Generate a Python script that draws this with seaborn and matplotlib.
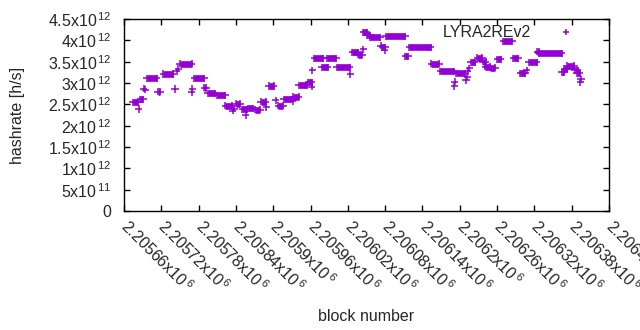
import numpy as np
import pandas as pd
import matplotlib
matplotlib.use("Agg")
import matplotlib.pyplot as plt
import seaborn as sns

# ---- data ----
# horizontal runs of identical hashrate (many overlapping points)
seg_start = [2205674, 2205686, 2205697, 2205714, 2205723, 2205750, 2205773, 2205789,
             2205795, 2205809, 2205823, 2205840, 2205850, 2205860, 2205871, 2205880,
             2205893, 2205908, 2205917, 2205932, 2205941, 2205956, 2205966, 2205978,
             2205987, 2206002, 2206027, 2206036, 2206045, 2206050, 2206056, 2206075,
             2206081, 2206112, 2206119, 2206154, 2206169, 2206194, 2206218, 2206228,
             2206237, 2206241, 2206249, 2206260, 2206270, 2206286, 2206297, 2206311,
             2206325, 2206327, 2206364, 2206368, 2206373, 2206385, 2206388]
seg_end = [2205682, 2205691, 2205713, 2205718, 2205738, 2205769, 2205789, 2205792,
           2205806, 2205823, 2205833, 2205847, 2205858, 2205867, 2205879, 2205888,
           2205901, 2205916, 2205929, 2205941, 2205954, 2205962, 2205980, 2205988,
           2206001, 2206023, 2206036, 2206043, 2206050, 2206056, 2206072, 2206080,
           2206112, 2206117, 2206153, 2206167, 2206190, 2206208, 2206224, 2206236,
           2206242, 2206249, 2206257, 2206266, 2206284, 2206294, 2206305, 2206324,
           2206327, 2206364, 2206368, 2206372, 2206384, 2206390, 2206393]
seg_hashrate = [2.55e12, 2.62e12, 3.11e12, 2.80e12, 3.21e12, 3.45e12, 3.11e12, 2.89e12,
                2.76e12, 2.71e12, 2.47e12, 2.51e12, 2.38e12, 2.41e12, 2.37e12, 2.56e12,
                2.93e12, 2.47e12, 2.62e12, 2.68e12, 2.95e12, 3.02e12, 3.58e12, 3.37e12,
                3.58e12, 3.37e12, 3.72e12, 3.66e12, 4.19e12, 4.12e12, 4.07e12, 3.84e12,
                4.10e12, 3.63e12, 3.84e12, 3.45e12, 3.27e12, 3.23e12, 3.49e12, 3.59e12,
                3.50e12, 3.38e12, 3.36e12, 3.56e12, 3.98e12, 3.58e12, 3.23e12, 3.49e12,
                3.73e12, 3.70e12, 3.25e12, 3.33e12, 3.40e12, 3.30e12, 3.23e12]

# isolated points
pt_block = [2205684, 2205692, 2205694, 2205742, 2205745, 2205747, 2205769, 2205770,
            2205835, 2205837, 2205856, 2205889, 2205904, 2205931, 2205962, 2205963,
            2206024, 2206045, 2206073, 2206079, 2206192, 2206191, 2206210, 2206212,
            2206213, 2206215, 2206308, 2206395, 2206394]
pt_hashrate = [2.39e12, 2.87e12, 2.84e12, 2.86e12, 3.27e12, 3.33e12, 2.78e12, 2.86e12,
               2.35e12, 2.40e12, 2.25e12, 2.43e12, 2.60e12, 2.57e12, 2.91e12, 3.30e12,
               3.20e12, 3.79e12, 3.87e12, 3.77e12, 3.03e12, 2.93e12, 3.07e12, 3.15e12,
               3.27e12, 3.34e12, 3.30e12, 3.09e12, 3.02e12]

series_name = "LYRA2REv2"
x_ticks = [2205660, 2205720, 2205780, 2205840, 2205900, 2205960, 2206020,
           2206080, 2206140, 2206200, 2206260, 2206320, 2206380, 2206440]
x_tick_mant = ["2.20566", "2.20572", "2.20578", "2.20584", "2.2059", "2.20596", "2.20602",
               "2.20608", "2.20614", "2.2062", "2.20626", "2.20632", "2.20638", "2.20644"]
y_ticks = [0, 0.5e12, 1e12, 1.5e12, 2e12, 2.5e12, 3e12, 3.5e12, 4e12, 4.5e12]
y_tick_labels = ["0", "5x10$^{\\,11}$", "1x10$^{\\,12}$", "1.5x10$^{\\,12}$", "2x10$^{\\,12}$",
                 "2.5x10$^{\\,12}$", "3x10$^{\\,12}$", "3.5x10$^{\\,12}$", "4x10$^{\\,12}$",
                 "4.5x10$^{\\,12}$"]

# ---- tables ----
segs = pd.DataFrame({
    "block": seg_start + seg_end,
    "hashrate": seg_hashrate + seg_hashrate,
    "seg": list(range(len(seg_start))) * 2,
})
pts = pd.DataFrame({
    "block": seg_start + seg_end + pt_block,
    "hashrate": seg_hashrate + seg_hashrate + pt_hashrate,
    "series": series_name,
})

# ---- style ----
sns.set_style("white")
plt.rcParams["font.family"] = ["Liberation Sans", "DejaVu Sans"]
plt.rcParams["mathtext.fontset"] = "custom"
plt.rcParams["mathtext.rm"] = "Liberation Sans"
plt.rcParams["mathtext.it"] = "Liberation Sans:italic"
plt.rcParams["mathtext.default"] = "regular"

FS = 11.5
color = "#9400D3"

fig = plt.figure(figsize=(6.4, 3.3), dpi=100)
ax = fig.add_axes([124 / 640, 1 - 211 / 330, 485 / 640, 192 / 330])

sns.lineplot(data=segs, x="block", y="hashrate", units="seg", estimator=None,
             color=color, lw=4.8, solid_capstyle="butt", legend=False, ax=ax)
sns.scatterplot(data=pts, x="block", y="hashrate", hue="series", palette=[color],
                marker="+", s=26, linewidth=1.1, ax=ax)

ax.set_xlim(2205660, 2206440)
ax.set_ylim(0, 4.5e12)
ax.set_xticks(x_ticks)
ax.set_xticklabels([m + "x10$^{\\,6}$" for m in x_tick_mant], rotation=-45,
                   ha="left", va="center", rotation_mode="anchor", fontsize=FS)
ax.set_yticks(y_ticks)
ax.set_yticklabels(y_tick_labels, fontsize=FS)

ax.tick_params(axis="both", direction="in", length=4, width=1, color="black",
               top=True, right=True, bottom=True, left=True)
ax.tick_params(axis="y", pad=9)
ax.tick_params(axis="x", pad=9)
for sp in ax.spines.values():
    sp.set_color("black")
    sp.set_linewidth(1.0)

ax.set_xlabel("block number", fontsize=FS)
ax.set_ylabel("hashrate [h/s]", fontsize=FS)
ax.xaxis.set_label_coords(0.5, -0.51)
ax.yaxis.set_label_coords(-0.204, 0.5)

leg = ax.legend(loc="upper right", bbox_to_anchor=(0.945, 0.968), frameon=False,
                markerfirst=False, borderaxespad=0, borderpad=0, handlelength=2.0,
                handletextpad=1.2, fontsize=FS)
for h in leg.legend_handles:
    if hasattr(h, "set_markersize"):
        h.set_markersize(5.0)
        h.set_markeredgewidth(1.1)

fig.savefig("out.png", dpi=100)
